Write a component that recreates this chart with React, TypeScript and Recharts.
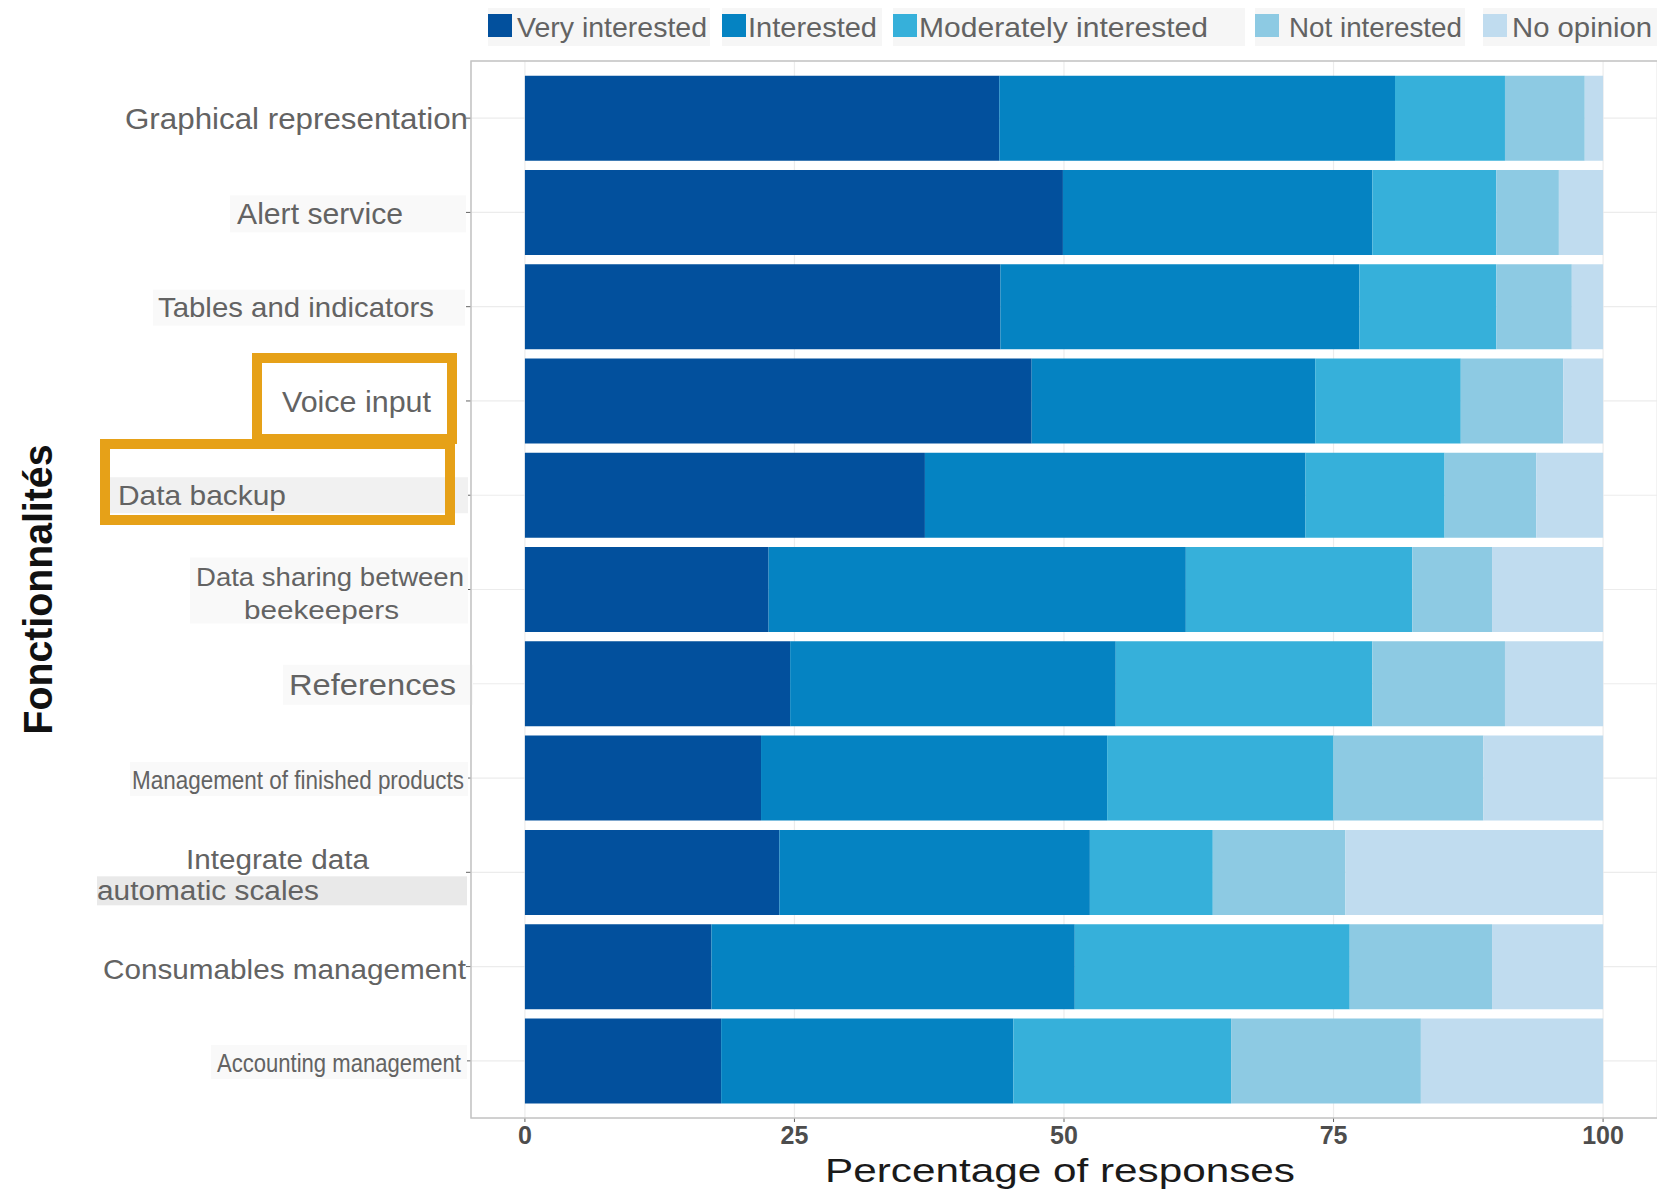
import React from 'react';
import { BarChart, Bar, XAxis, YAxis, CartesianGrid, Legend } from 'recharts';

// categories (top to bottom), '\n' marks a line break in the tick label
const features = [
  'Graphical representation',
  'Alert service',
  'Tables and indicators',
  'Voice input',
  'Data backup',
  'Data sharing between\nbeekeepers',
  'References',
  'Management of finished products',
  'Integrate data\nautomatic scales',
  'Consumables management',
  'Accounting management',
];

// percentage of responses per answer
const veryInterested = [44.0, 49.9, 44.1, 47.0, 37.1, 22.6, 24.6, 21.9, 23.6, 17.3, 18.2];
const interested = [36.7, 28.7, 33.3, 26.3, 35.3, 38.7, 30.2, 32.1, 28.8, 33.7, 27.1];
const moderatelyInterested = [10.2, 11.5, 12.7, 13.5, 12.9, 21.0, 23.8, 21.0, 11.4, 25.5, 20.2];
const notInterested = [7.4, 5.8, 7.0, 9.5, 8.5, 7.4, 12.3, 13.9, 12.3, 13.2, 17.6];
const noOpinion = [1.7, 4.1, 2.9, 3.7, 6.2, 10.3, 9.1, 11.1, 23.9, 10.3, 16.9];

const seriesNames = ['Very interested', 'Interested', 'Moderately interested', 'Not interested', 'No opinion'];
const seriesKeys = ['very', 'interested', 'moderate', 'notInterested', 'noOpinion'];
const xTicks = [0, 25, 50, 75, 100];

const colors = ['#02509d', '#0583c2', '#36b0da', '#8dcae3', '#c0dcef'];
const FONT = "'Liberation Sans', Arial, Helvetica, sans-serif";
const LABEL_GREY = '#636363';

const rows = features.map((feature, i) => ({
  feature,
  very: veryInterested[i],
  interested: interested[i],
  moderate: moderatelyInterested[i],
  notInterested: notInterested[i],
  noOpinion: noOpinion[i],
}));

// the tick labels in the figure were pasted in by hand, so each has its own size/spot
type LineSpec = { x: number; dy: number; w: number; fs: number };
type TickSpec = { lines: LineSpec[]; bg?: [number, number, number, number, string] };
const tickLayout: TickSpec[] = [
  { lines: [{ x: 125, dy: 0, w: 343, fs: 30 }] },
  { lines: [{ x: 237, dy: 1, w: 166, fs: 29 }], bg: [230, -17, 236, 37, '#f9f9f9'] },
  { lines: [{ x: 158, dy: 1, w: 276, fs: 28 }], bg: [153, -17, 312, 36, '#f9f9f9'] },
  { lines: [{ x: 282, dy: 1, w: 149, fs: 29 }] },
  { lines: [{ x: 118, dy: 0, w: 168, fs: 28 }], bg: [110, -18, 358, 36, '#f1f1f1'] },
  {
    lines: [
      { x: 196, dy: -13, w: 268, fs: 26 },
      { x: 244, dy: 20, w: 155, fs: 26 },
    ],
    bg: [190, -32, 278, 66, '#f9f9f9'],
  },
  { lines: [{ x: 289, dy: 1, w: 167, fs: 30 }], bg: [283, -19, 190, 40, '#f9f9f9'] },
  { lines: [{ x: 132, dy: 2, w: 332, fs: 25 }], bg: [130, -16, 338, 34, '#f9f9f9'] },
  {
    lines: [
      { x: 186, dy: -13, w: 183, fs: 27 },
      { x: 97, dy: 18, w: 222, fs: 27 },
    ],
    bg: [97, 4, 370, 29, '#e9e9e9'],
  },
  { lines: [{ x: 103, dy: 3, w: 363, fs: 28 }] },
  { lines: [{ x: 217, dy: 2, w: 244, fs: 26 }], bg: [211, -16, 256, 34, '#f9f9f9'] },
];

function FeatureTick(props: any) {
  const { y, payload } = props;
  const value = String(payload.value);
  const idx = typeof payload.index === 'number' ? payload.index : features.indexOf(value);
  const spec = tickLayout[idx];
  if (!spec) return null;
  const lines = value.split('\n');
  return (
    <g>
      {spec.bg && (
        <rect x={spec.bg[0]} y={y + spec.bg[1]} width={spec.bg[2]} height={spec.bg[3]} fill={spec.bg[4]} />
      )}
      {lines.map((line, i) => {
        const l = spec.lines[i];
        return (
          <text
            key={i}
            x={l.x}
            y={y + l.dy}
            dy="0.35em"
            textLength={l.w}
            lengthAdjust="spacingAndGlyphs"
            fontSize={l.fs}
            fontFamily={FONT}
            fill={LABEL_GREY}
          >
            {line}
          </text>
        );
      })}
    </g>
  );
}

// legend key x, text x, text width, background width
const legendLayout = [
  { kx: 488, tx: 517, tw: 190, bgw: 222 },
  { kx: 722, tx: 748, tw: 129, bgw: 160 },
  { kx: 893, tx: 919, tw: 289, bgw: 352 },
  { kx: 1255, tx: 1289, tw: 173, bgw: 210 },
  { kx: 1483, tx: 1512, tw: 140, bgw: 174 },
];

function LegendContent(props: any) {
  const payload: any[] = props.payload || [];
  return (
    <svg width={1657} height={56} style={{ position: 'absolute', left: 0, top: 0, overflow: 'visible' }}>
      {seriesNames.map((name, i) => {
        const item = payload.find((p) => p.value === name);
        const color = (item && item.color) || colors[i];
        const l = legendLayout[i];
        return (
          <g key={name}>
            <rect x={l.kx} y={8} width={l.bgw} height={38} fill="#f6f6f6" />
            <rect x={l.kx} y={14} width={24} height={23} fill={color} />
            <text
              x={l.tx}
              y={27}
              dy="0.35em"
              fontSize={28}
              fontFamily={FONT}
              fill={LABEL_GREY}
              textLength={l.tw}
              lengthAdjust="spacingAndGlyphs"
            >
              {name}
            </text>
          </g>
        );
      })}
    </svg>
  );
}

function XTitle(props: any) {
  const vb = props.viewBox || { x: 471, y: 1118, width: 1186, height: 72 };
  return (
    <text
      x={vb.x + vb.width / 2 - 4}
      y={vb.y + 64}
      textAnchor="middle"
      fontSize={33}
      fontFamily={FONT}
      fill="#1a1a1a"
      textLength={470}
      lengthAdjust="spacingAndGlyphs"
    >
      Percentage of responses
    </text>
  );
}

function YTitle(props: any) {
  const vb = props.viewBox || { x: 0, y: 61, width: 471, height: 1057 };
  const cx = 38;
  const cy = vb.y + vb.height / 2;
  return (
    <text
      x={cx}
      y={cy}
      dy="0.35em"
      transform={`rotate(-90, ${cx}, ${cy})`}
      textAnchor="middle"
      fontSize={40}
      fontWeight="bold"
      fontFamily={FONT}
      fill="#111"
      textLength={290}
      lengthAdjust="spacingAndGlyphs"
    >
      Fonctionnalités
    </text>
  );
}

export default function App() {
  return (
    <div style={{ position: 'absolute', left: 0, top: 0, width: 1657, height: 1190, background: '#fff' }}>
      <BarChart
        width={1657}
        height={1190}
        data={rows}
        layout="vertical"
        margin={{ top: 61, right: 0, bottom: 0, left: 0 }}
        barCategoryGap="5%"
      >
        <CartesianGrid stroke="#ececec" strokeWidth={1.2} />
        <XAxis
          type="number"
          domain={[-5, 105]}
          allowDataOverflow
          ticks={xTicks}
          axisLine={false}
          tickLine={{ stroke: '#666' }}
          tickSize={4}
          tickMargin={4}
          height={72}
          tick={{ fontSize: 25, fontWeight: 'bold', fill: '#4d4d4d', fontFamily: FONT }}
          label={{ content: (p: any) => <XTitle {...p} /> }}
        />
        <YAxis
          type="category"
          dataKey="feature"
          width={471}
          interval={0}
          axisLine={false}
          tickLine={{ stroke: '#666' }}
          tickSize={5}
          padding={{ top: 10, bottom: 10 }}
          tick={(p: any) => <FeatureTick {...p} />}
          label={{ content: (p: any) => <YTitle {...p} /> }}
        />
        <Legend
          verticalAlign="top"
          content={(p: any) => <LegendContent {...p} />}
          wrapperStyle={{ top: 0, left: 0, width: 1657, height: 0 }}
        />
        {seriesKeys.map((k, i) => (
          <Bar key={k} dataKey={k} name={seriesNames[i]} stackId="a" fill={colors[i]} isAnimationActive={false} />
        ))}
      </BarChart>
      {/* panel border and the highlight boxes drawn over the chart */}
      <svg width={1657} height={1190} style={{ position: 'absolute', left: 0, top: 0, pointerEvents: 'none' }}>
        <rect x={471} y={61} width={1190} height={1057} fill="none" stroke="#c4c4c4" strokeWidth={1.5} />
        <rect x={257} y={358} width={195} height={81} fill="none" stroke="#E6A118" strokeWidth={10} />
        <rect x={105} y={444} width={345} height={76} fill="none" stroke="#E6A118" strokeWidth={10} />
      </svg>
    </div>
  );
}
